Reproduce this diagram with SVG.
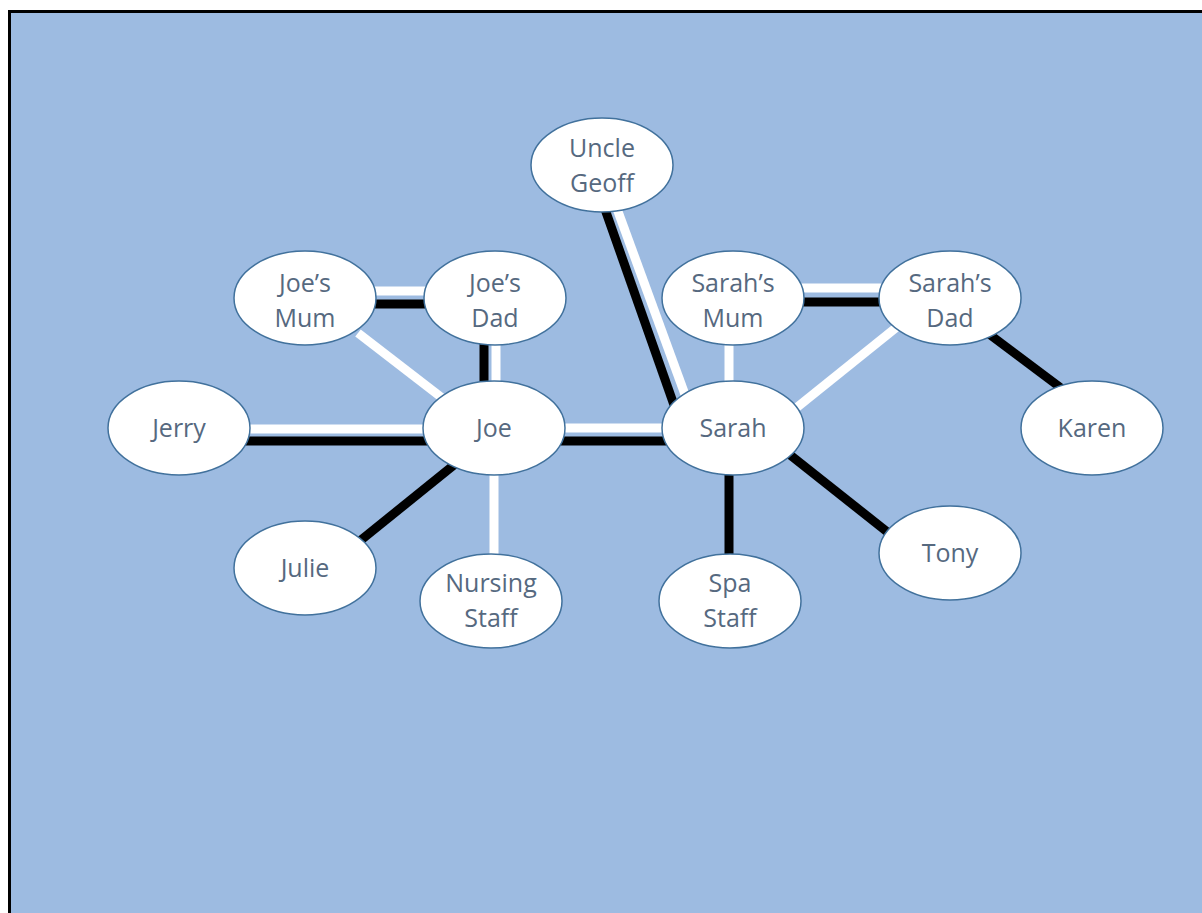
<svg xmlns="http://www.w3.org/2000/svg" width="1202" height="913" viewBox="0 0 1202 913">
<style>
.n ellipse{fill:#fff;stroke:#41719C;stroke-width:1.5}
.n text{font-family:"Open Sans","Noto Sans",sans-serif;font-size:25px;fill:#56697F;text-anchor:middle}
.w{stroke:#fff;stroke-width:9;fill:none}
.b{stroke:#000;stroke-width:9;fill:none}
</style>
<rect x="9.5" y="11.5" width="1200" height="910" fill="#9DBBE1" stroke="#000" stroke-width="3"/>
<g id="connectors">
<line class="w" x1="305" y1="291" x2="495" y2="291"/>
<line class="b" x1="305" y1="304" x2="495" y2="304"/>
<line class="b" x1="484" y1="298" x2="484" y2="428"/>
<line class="w" x1="496" y1="298" x2="496" y2="428"/>
<line class="w" x1="358" y1="333" x2="450" y2="404"/>
<line class="w" x1="179" y1="429" x2="494" y2="429"/>
<line class="b" x1="179" y1="441" x2="494" y2="441"/>
<line class="w" x1="494" y1="428" x2="733" y2="428"/>
<line class="b" x1="494" y1="441" x2="733" y2="441"/>
<line class="b" x1="600" y1="195" x2="674" y2="405"/>
<line class="w" x1="612" y1="195" x2="687" y2="400"/>
<line class="w" x1="733" y1="288" x2="950" y2="288"/>
<line class="b" x1="733" y1="302" x2="950" y2="302"/>
<line class="w" x1="729" y1="298" x2="729" y2="428"/>
<line class="w" x1="918" y1="310" x2="775" y2="425"/>
<line class="b" x1="973" y1="322" x2="1077" y2="400"/>
<line class="b" x1="475" y1="448" x2="340" y2="557"/>
<line class="w" x1="494" y1="428" x2="494" y2="601"/>
<line class="b" x1="729" y1="428" x2="729" y2="601"/>
<line class="b" x1="770" y1="439" x2="905" y2="546"/>
</g>
<g id="uncle-geoff" class="n"><ellipse cx="602" cy="165" rx="71" ry="47"/><text x="602" y="157">Uncle</text><text x="602" y="192">Geoff</text></g>
<g id="joes-mum" class="n"><ellipse cx="305" cy="298" rx="71" ry="47"/><text x="305" y="292">Joe’s</text><text x="305" y="327">Mum</text></g>
<g id="joes-dad" class="n"><ellipse cx="495" cy="298" rx="71" ry="47"/><text x="495" y="292">Joe’s</text><text x="495" y="327">Dad</text></g>
<g id="sarahs-mum" class="n"><ellipse cx="733" cy="298" rx="71" ry="47"/><text x="733" y="292">Sarah’s</text><text x="733" y="327">Mum</text></g>
<g id="sarahs-dad" class="n"><ellipse cx="950" cy="298" rx="71" ry="47"/><text x="950" y="292">Sarah’s</text><text x="950" y="327">Dad</text></g>
<g id="jerry" class="n"><ellipse cx="179" cy="428" rx="71" ry="47"/><text x="179" y="437">Jerry</text></g>
<g id="joe" class="n"><ellipse cx="494" cy="428" rx="71" ry="47"/><text x="494" y="437">Joe</text></g>
<g id="sarah" class="n"><ellipse cx="733" cy="428" rx="71" ry="47"/><text x="733" y="437">Sarah</text></g>
<g id="karen" class="n"><ellipse cx="1092" cy="428" rx="71" ry="47"/><text x="1092" y="437">Karen</text></g>
<g id="julie" class="n"><ellipse cx="305" cy="568" rx="71" ry="47"/><text x="305" y="577">Julie</text></g>
<g id="nursing-staff" class="n"><ellipse cx="491" cy="601" rx="71" ry="47"/><text x="491" y="592">Nursing</text><text x="491" y="627">Staff</text></g>
<g id="spa-staff" class="n"><ellipse cx="730" cy="601" rx="71" ry="47"/><text x="730" y="592">Spa</text><text x="730" y="627">Staff</text></g>
<g id="tony" class="n"><ellipse cx="950" cy="553" rx="71" ry="47"/><text x="950" y="562">Tony</text></g>
</svg>
